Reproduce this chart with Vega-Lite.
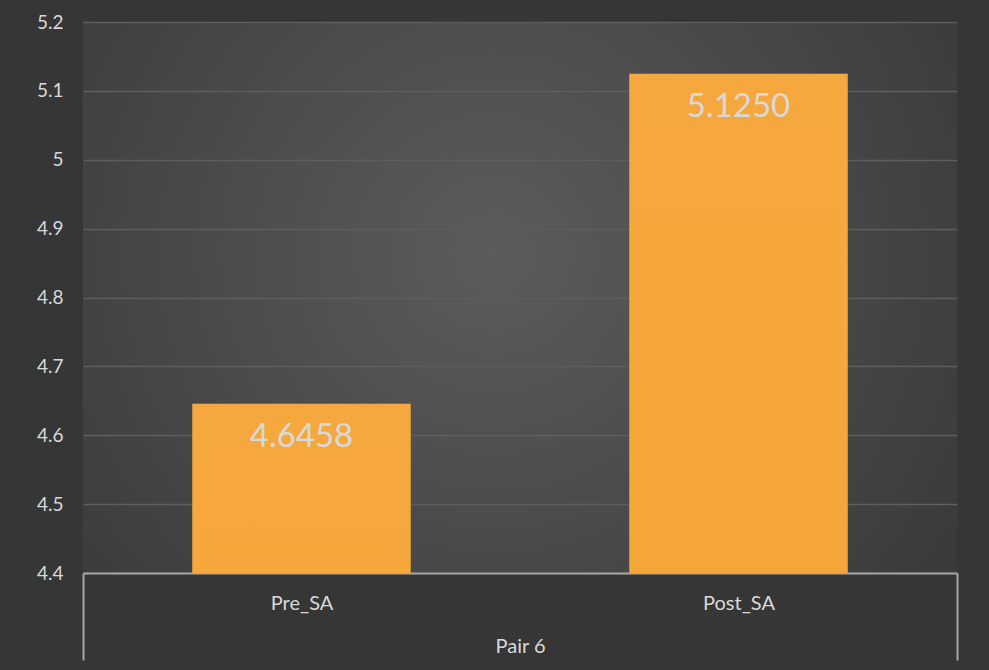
{
  "$schema": "https://vega.github.io/schema/vega-lite/v6.json",
  "width": 874,
  "height": 551,
  "autosize": {"type": "none"},
  "padding": {"left": 83, "top": 22, "right": 32, "bottom": 97},
  "background": "#363636",
  "config": {
    "view": {
      "stroke": null,
      "fill": {
        "gradient": "radial",
        "x1": 0.47, "y1": 0.45, "r1": 0,
        "x2": 0.47, "y2": 0.45, "r2": 0.8,
        "stops": [
          {"offset": 0, "color": "#5c5c5c"},
          {"offset": 1, "color": "#313131"}
        ]
      }
    },
    "font": "Lato"
  },
  "data": {
    "values": [
      {"group": "Pair 6", "phase": "Pre_SA", "mean": 4.6458},
      {"group": "Pair 6", "phase": "Post_SA", "mean": 5.125}
    ]
  },
  "encoding": {
    "x": {
      "field": "phase",
      "type": "nominal",
      "sort": ["Pre_SA", "Post_SA"],
      "scale": {"paddingInner": 0, "paddingOuter": 0},
      "axis": {
        "title": "Pair 6",
        "labelAngle": 0,
        "domainColor": "#a6a6a6",
        "domainWidth": 2,
        "tickBand": "extent",
        "tickColor": "#a6a6a6",
        "tickWidth": 2,
        "tickSize": 87,
        "tickOpacity": {"condition": {"test": "datum.value === 'Pre_SA'", "value": 0}, "value": 1},
        "labelPadding": -67,
        "labelFontSize": 20,
        "labelColor": "#d9d9d9",
        "labelFont": "Lato",
        "titleFont": "Lato",
        "titleFontSize": 20,
        "titleFontWeight": "normal",
        "titleColor": "#d9d9d9",
        "titlePadding": -25,
        "grid": false
      }
    },
    "y": {
      "field": "mean",
      "type": "quantitative",
      "scale": {"domain": [4.4, 5.2], "nice": false, "zero": false},
      "axis": {
        "title": null,
        "values": [4.4, 4.5, 4.6, 4.7, 4.8, 4.9, 5.0, 5.1, 5.2],
        "format": "~g",
        "domain": false,
        "ticks": false,
        "labelPadding": 20,
        "labelFontSize": 19,
        "labelColor": "#d9d9d9",
        "labelFont": "Lato",
        "gridColor": "#5e5e5e",
        "gridWidth": 1.5
      }
    }
  },
  "layer": [
    {
      "mark": {
        "type": "bar",
        "clip": true,
        "width": {"band": 0.5},
        "color": {
          "gradient": "linear",
          "x1": 0, "y1": 0, "x2": 0, "y2": 1,
          "stops": [
            {"offset": 0, "color": "#f5a83f"},
            {"offset": 1, "color": "#f89e0e"}
          ]
        }
      }
    },
    {
      "mark": {"type": "text", "dy": 33, "baseline": "middle", "fontSize": 33, "color": "#d9d9d9", "font": "Lato"},
      "encoding": {"text": {"field": "mean", "type": "quantitative", "format": ".4f"}}
    }
  ]
}
